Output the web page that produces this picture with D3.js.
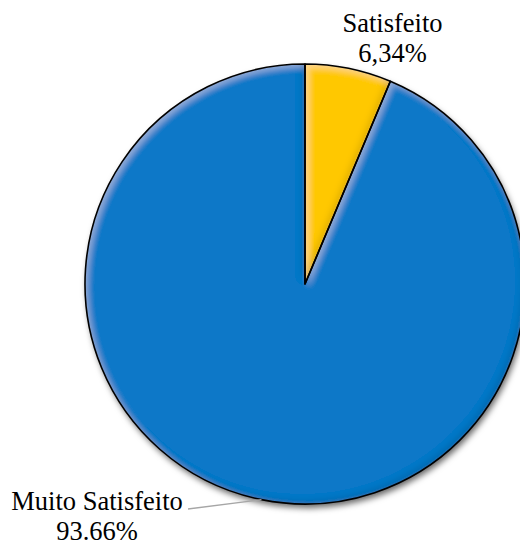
<!DOCTYPE html>
<html>
<head>
<meta charset="utf-8">
<script src="https://cdn.jsdelivr.net/npm/d3@7"></script>
<style>
  html, body { margin: 0; padding: 0; background: #fff; overflow: hidden; }
  svg { display: block; }
</style>
</head>
<body>
<svg id="chart" width="520" height="541"></svg>
<script>
// Satisfaction shares (percent), drawn clockwise from 12 o'clock
const categories = ["Satisfeito", "Muito Satisfeito"];
const values = [6.34, 93.66];
const valueLabels = ["6,34%", "93.66%"];
const colors = ["#FFC800", "#0A78C8"];

const svg = d3.select("#chart");
const cx = 305, cy = 284, radius = 220;
const serif = "'Liberation Serif', Tinos, 'Times New Roman', serif";

const defs = svg.append("defs");

// soft drop shadow under the whole pie
const shadow = defs.append("filter").attr("id", "shadow")
  .attr("x", "-20%").attr("y", "-20%").attr("width", "140%").attr("height", "140%");
shadow.append("feDropShadow")
  .attr("dx", 2).attr("dy", 4).attr("stdDeviation", 3)
  .attr("flood-color", "#000").attr("flood-opacity", 0.6);

// rounded bevel on each slice: light inner rim top-left, dark inner rim bottom-right
const bevel = defs.append("filter").attr("id", "bevel")
  .attr("x", "-10%").attr("y", "-10%").attr("width", "120%").attr("height", "120%");
bevel.append("feGaussianBlur").attr("in", "SourceAlpha").attr("stdDeviation", 3).attr("result", "blur");
bevel.append("feOffset").attr("in", "blur").attr("dx", 3).attr("dy", 3).attr("result", "offA");
bevel.append("feOffset").attr("in", "blur").attr("dx", -3).attr("dy", -3).attr("result", "offB");
bevel.append("feComposite").attr("in", "SourceAlpha").attr("in2", "offA")
  .attr("operator", "arithmetic").attr("k2", 1).attr("k3", -1).attr("result", "rimLight");
bevel.append("feComposite").attr("in", "SourceAlpha").attr("in2", "offB")
  .attr("operator", "arithmetic").attr("k2", 1).attr("k3", -1).attr("result", "rimDark");
bevel.append("feFlood").attr("flood-color", "#ffffff").attr("flood-opacity", 0.3).attr("result", "white");
bevel.append("feComposite").attr("in", "white").attr("in2", "rimLight").attr("operator", "in").attr("result", "hl");
bevel.append("feFlood").attr("flood-color", "#000000").attr("flood-opacity", 0.25).attr("result", "black");
bevel.append("feComposite").attr("in", "black").attr("in2", "rimDark").attr("operator", "in").attr("result", "sh");
const merge = bevel.append("feMerge").attr("result", "merged");
merge.append("feMergeNode").attr("in", "SourceGraphic");
merge.append("feMergeNode").attr("in", "hl");
merge.append("feMergeNode").attr("in", "sh");
bevel.append("feComposite").attr("in", "merged").attr("in2", "SourceAlpha").attr("operator", "in");

const data = categories.map((c, i) => ({ category: c, value: values[i], label: valueLabels[i], color: colors[i] }));

const pie = d3.pie().sort(null).value(d => d.value);
const arcs = pie(data);
const arc = d3.arc().innerRadius(0).outerRadius(radius);

const g = svg.append("g").attr("transform", `translate(${cx},${cy})`);
const shadowG = g.append("g").attr("filter", "url(#shadow)");

shadowG.selectAll("path.slice")
  .data(arcs)
  .join("path")
  .attr("class", "slice")
  .attr("d", arc)
  .attr("fill", d => d.data.color)
  .attr("filter", "url(#bevel)");

// outlines on top
g.selectAll("path.outline")
  .data(arcs)
  .join("path")
  .attr("class", "outline")
  .attr("d", arc)
  .attr("fill", "none")
  .attr("stroke", "#000")
  .attr("stroke-width", 1.6)
  .attr("stroke-linejoin", "round");

// labels
const fontSize = 26.5;

// Satisfeito: above the small slice
const sat = arcs[0];
const satOuter = d3.arc().innerRadius(radius).outerRadius(radius).centroid(sat);
const satX = satOuter[0] + 44;
const satText = g.append("text").attr("text-anchor", "middle")
  .attr("font-family", serif).attr("font-size", fontSize).attr("fill", "#000");
satText.append("tspan").attr("x", satX).attr("y", -radius - 32).text(sat.data.category);
satText.append("tspan").attr("x", satX).attr("y", -radius - 2).text(sat.data.label);

// Muito Satisfeito: lower left with a leader line to the slice edge
const ms = arcs[1];
const msEdge = d3.arc().innerRadius(radius).outerRadius(radius).centroid(ms);
const msX = -208, msY = 226;
g.append("path")
  .attr("d", d3.line()([[msX + 91, msY - 1], [msEdge[0], msEdge[1]]]))
  .attr("fill", "none")
  .attr("stroke", "#a6a6a6")
  .attr("stroke-width", 1.3);
const msText = g.append("text").attr("text-anchor", "middle")
  .attr("font-family", serif).attr("font-size", fontSize).attr("fill", "#000");
msText.append("tspan").attr("x", msX).attr("y", msY).text(ms.data.category);
msText.append("tspan").attr("x", msX).attr("y", msY + 30).text(ms.data.label);
</script>
</body>
</html>
